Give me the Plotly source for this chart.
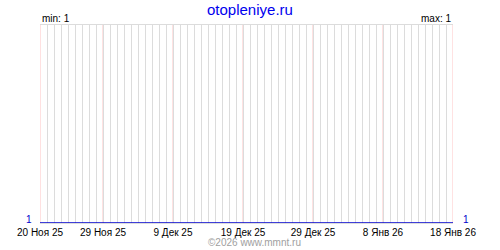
import plotly.graph_objects as go
import pandas as pd

dates = pd.date_range("2025-11-20", "2026-01-18", freq="D").strftime("%Y-%m-%d").tolist()
values = [1, 1, 1, 1, 1, 1, 1, 1, 1, 1,
          1, 1, 1, 1, 1, 1, 1, 1, 1, 1,
          1, 1, 1, 1, 1, 1, 1, 1, 1, 1,
          1, 1, 1, 1, 1, 1, 1, 1, 1, 1,
          1, 1, 1, 1, 1, 1, 1, 1, 1, 1,
          1, 1, 1, 1, 1, 1, 1, 1, 1, 1]
tick_vals = ["2025-11-20", "2025-11-29", "2025-12-09", "2025-12-19",
             "2025-12-29", "2026-01-08", "2026-01-18"]
tick_text = ["20 Ноя 25", "29 Ноя 25", "9 Дек 25", "19 Дек 25",
             "29 Дек 25", "8 Янв 26", "18 Янв 26"]
title = "otopleniye.ru"
credit = "©2026 www.mmnt.ru"

vmin, vmax = min(values), max(values)
font = "Liberation Sans"

fig = go.Figure()
fig.add_trace(go.Scatter(x=dates, y=values, mode="lines",
                         line=dict(color="#0000cc", width=1.5),
                         hoverinfo="skip", cliponaxis=False))

for tv in tick_vals:
    fig.add_shape(type="line", xref="x", yref="paper", x0=tv, x1=tv, y0=0, y1=1,
                  line=dict(color="#ffc4c4", width=1), layer="between")

fig.update_layout(
    width=500, height=250,
    margin=dict(l=40, r=47, t=25, b=25),
    paper_bgcolor="white", plot_bgcolor="white",
    showlegend=False,
    font=dict(family=font, size=10, color="black"),
    xaxis=dict(
        type="date",
        range=[dates[0], dates[-1]],
        tickvals=tick_vals, ticktext=tick_text,
        showgrid=True, gridcolor="#dcdcdc", gridwidth=1,
        ticks="", tickfont=dict(family=font, size=10, color="black"),
        showline=True, linecolor="#dcdcdc", linewidth=1, mirror=True,
        zeroline=False,
        minor=dict(dtick=86400000, tick0=dates[0], showgrid=True,
                   gridcolor="#dcdcdc", gridwidth=1, ticks=""),
    ),
    yaxis=dict(
        range=[vmin, vmin + 1],
        showticklabels=False, showgrid=False,
        zeroline=False, showline=False, ticks="",
    ),
    annotations=[
        dict(text=title, xref="paper", yref="paper", x=0.508, y=1.0, yshift=26,
             xanchor="center", yanchor="top", showarrow=False,
             font=dict(family=font, size=15, color="#0000ee")),
        dict(text=f"min: {vmin}", xref="paper", yref="paper", x=0, y=1,
             xanchor="left", yanchor="bottom", showarrow=False, yshift=-1,
             font=dict(family=font, size=10, color="black")),
        dict(text=f"max: {vmax}", xref="paper", yref="paper", x=1, y=1,
             xanchor="right", yanchor="bottom", showarrow=False, yshift=-1,
             font=dict(family=font, size=10, color="black")),
        dict(text=str(values[0]), xref="x", yref="y", x=dates[0], y=values[0],
             xanchor="right", yanchor="bottom", showarrow=False, xshift=-6, yshift=-4,
             font=dict(family=font, size=10, color="#0000cc")),
        dict(text=str(values[-1]), xref="x", yref="y", x=dates[-1], y=values[-1],
             xanchor="left", yanchor="bottom", showarrow=False, xshift=8, yshift=-4,
             font=dict(family=font, size=10, color="#0000cc")),
        dict(text=credit, xref="paper", yref="paper", x=0.52, y=0, yshift=-27,
             xanchor="center", yanchor="bottom", showarrow=False,
             font=dict(family=font, size=10, color="#a0a0a0")),
    ],
)

fig.write_html("out.html")
